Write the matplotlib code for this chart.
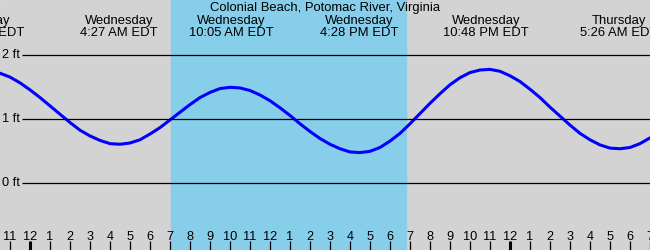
import matplotlib
matplotlib.use("Agg")
import matplotlib.pyplot as plt

# Tide height (ft) read every half hour; hour 0 = midnight starting Wednesday
hours = [h / 2 for h in range(-4, 63)]
heights = [1.75, 1.72, 1.66, 1.57, 1.46, 1.34, 1.21, 1.08, 0.95, 0.83,
           0.74, 0.67, 0.62, 0.61, 0.63, 0.68, 0.77, 0.87, 0.99, 1.11,
           1.23, 1.34, 1.42, 1.48, 1.50, 1.49, 1.45, 1.38, 1.29, 1.18,
           1.06, 0.93, 0.81, 0.70, 0.61, 0.54, 0.49, 0.48, 0.50, 0.56,
           0.66, 0.78, 0.93, 1.09, 1.25, 1.40, 1.54, 1.65, 1.73, 1.77,
           1.78, 1.75, 1.68, 1.59, 1.47, 1.34, 1.19, 1.05, 0.91, 0.78,
           0.68, 0.60, 0.55, 0.54, 0.56, 0.62, 0.71]

# High / low tide events shown in the header
event_hours = [-2.23, 4.45, 10.083, 16.467, 22.8, 29.433]
event_days = ["Tuesday", "Wednesday", "Wednesday", "Wednesday", "Wednesday", "Thursday"]
event_times = ["9:46 PM EDT", "4:27 AM EDT", "10:05 AM EDT", "4:28 PM EDT",
               "10:48 PM EDT", "5:26 AM EDT"]

# Daylight period
sunrise = 7.05
sunset = 18.8

# Hour ticks along the bottom
tick_hours = list(range(-1, 32))
tick_labels = [str(h % 12 if h % 12 else 12) for h in tick_hours]

grid_levels = [0, 1, 2]
title = "Colonial Beach, Potomac River, Virginia"

plt.rcParams["font.family"] = ["Liberation Sans", "DejaVu Sans"]

fig = plt.figure(figsize=(6.5, 2.5), dpi=100)
ax = fig.add_axes([0, 0, 1, 1])
ax.set_xlim(-1.5, 31)
ax.set_ylim(-1.042, 2.864)
ax.axis("off")
ax.add_patch(plt.Rectangle((0, 0), 1, 1, transform=ax.transAxes,
                           color="#d3d3d3", zorder=0))

# daylight band
ax.axvspan(sunrise, sunset, color="#87ceeb", zorder=1)

# tide curve
ax.plot(hours, heights, color="#0000ff", lw=2.2, zorder=3,
        solid_capstyle="round", solid_joinstyle="round")

# horizontal reference lines with labels
for lev in grid_levels:
    ax.hlines(lev, -0.4, 31, color="black", lw=0.9, zorder=4)
    ax.text(-0.5, lev, f"{lev} ft", ha="right", va="center",
            fontsize=9.2, zorder=5)

# hour ticks
xt = ax.get_xaxis_transform()
for h, lab in zip(tick_hours, tick_labels):
    width = 2.2 if h % 24 == 0 else 0.9
    ax.vlines(h, 0, 0.036, transform=xt, color="black", lw=width, zorder=5)
    ax.text(h, 0.04, lab, transform=xt, ha="center", va="baseline",
            fontsize=9.2, zorder=5)

# header: title and tide events
ax.text(0.5, 0.954, title, transform=ax.transAxes, ha="center",
        va="baseline", fontsize=9.4)
for h, day, t in zip(event_hours, event_days, event_times):
    ax.text(h, 0.904, day, transform=xt, ha="center", va="baseline", fontsize=9.4)
    ax.text(h, 0.856, t, transform=xt, ha="center", va="baseline", fontsize=9.4)

plt.savefig("out.png", dpi=100)
